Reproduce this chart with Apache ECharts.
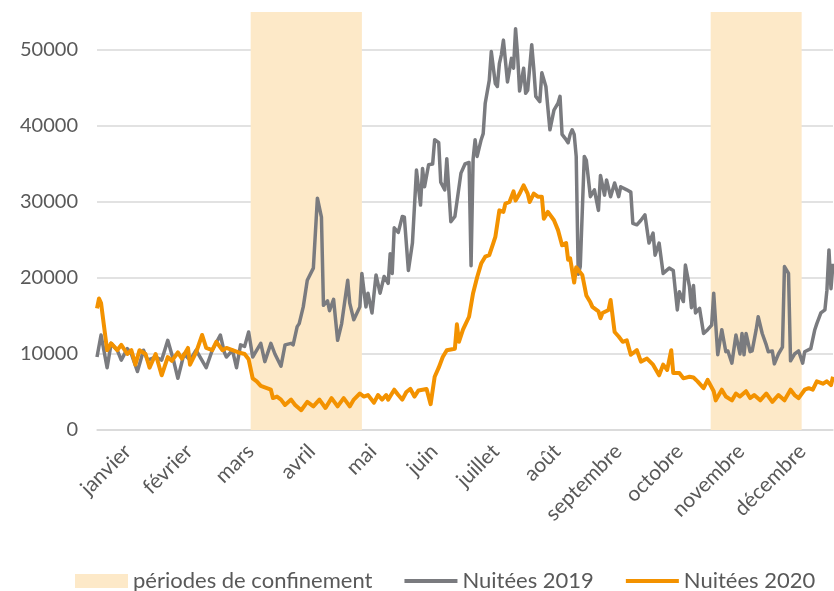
<!DOCTYPE html>
<html>
<head>
<meta charset="utf-8">
<script src="https://cdn.jsdelivr.net/npm/echarts@6/dist/echarts.min.js"></script>
<style>
html, body { margin: 0; padding: 0; background: #fff; }
#main { width: 834px; height: 591px; }
</style>
</head>
<body>
<div id="main"></div>
<script>
// jour de l'année (0 = 1er janvier) et nuitées en milliers
var months = ['janvier', 'février', 'mars', 'avril', 'mai', 'juin', 'juillet', 'août', 'septembre', 'octobre', 'novembre', 'décembre'];
var yTicks = [0, 10000, 20000, 30000, 40000, 50000];

var days2019 = [0, 2, 5, 7, 10, 12, 15, 17, 20, 23, 25, 29, 32, 35, 38, 40, 43, 46, 49, 54, 57, 61, 63, 64, 67, 69, 71, 73, 75, 77, 79, 81, 83, 86, 88, 91, 93, 96, 97, 99, 100, 102, 104, 107, 109, 111, 112, 114, 115, 117, 119, 121, 124, 125, 127, 130, 131, 133, 134, 136, 138, 140, 142, 144, 145, 146, 147, 149, 151, 152, 154, 156, 158, 160, 161, 162, 164, 166, 167, 169, 170, 172, 173, 175, 177, 180, 182, 184, 185, 186, 187, 188, 190, 191, 192, 194, 195, 197, 198, 199, 200, 201, 203, 205, 206, 207, 208, 209, 211, 212, 213, 215, 216, 217, 219, 220, 222, 224, 226, 228, 229, 230, 232, 233, 234, 235, 236, 237, 238, 239, 241, 242, 244, 246, 248, 249, 251, 252, 254, 256, 258, 259, 262, 264, 265, 267, 269, 271, 273, 275, 276, 278, 280, 283, 285, 287, 288, 290, 291, 293, 294, 295, 296, 298, 300, 302, 304, 305, 307, 309, 311, 312, 314, 316, 318, 319, 320, 321, 323, 324, 326, 327, 329, 331, 332, 334, 335, 337, 339, 340, 342, 343, 345, 347, 349, 350, 353, 355, 356, 358, 360, 361, 362, 363, 364];
var vals2019 = [9.6, 12.5, 8.2, 11.4, 10.5, 9.2, 10.7, 10.0, 7.7, 10.5, 9.2, 9.6, 9.2, 11.8, 9.0, 6.8, 10.0, 9.2, 10.5, 8.2, 10.5, 12.5, 10.2, 9.6, 10.5, 8.2, 11.2, 11.0, 12.9, 9.6, 10.5, 11.4, 9.0, 11.4, 10.0, 8.4, 11.2, 11.4, 11.2, 13.6, 14.0, 16.2, 19.7, 21.3, 30.5, 28.0, 16.4, 17.0, 15.7, 17.2, 11.8, 14.0, 19.7, 16.7, 14.5, 16.2, 20.6, 16.2, 18.0, 15.4, 20.4, 18.0, 20.2, 19.3, 23.2, 20.6, 26.6, 26.0, 28.1, 28.0, 21.0, 24.6, 34.2, 29.6, 34.4, 32.0, 34.9, 35.0, 38.2, 37.8, 32.6, 31.6, 35.7, 27.4, 28.1, 33.8, 35.0, 35.2, 21.6, 35.6, 38.2, 36.0, 38.2, 39.0, 43.0, 46.0, 49.8, 45.6, 45.2, 48.2, 49.4, 51.3, 45.8, 48.9, 47.6, 52.8, 49.4, 44.6, 47.6, 44.3, 44.7, 50.7, 47.6, 43.9, 43.2, 47.0, 45.2, 39.5, 42.1, 43.0, 43.9, 38.9, 38.2, 37.8, 38.9, 39.5, 38.9, 36.0, 20.5, 21.5, 36.0, 35.5, 30.7, 31.6, 28.9, 33.5, 30.9, 32.9, 30.7, 32.5, 30.7, 32.0, 31.6, 31.3, 27.2, 27.0, 27.6, 28.3, 24.6, 25.9, 23.0, 24.6, 20.6, 21.3, 21.0, 15.8, 18.2, 16.9, 21.7, 18.9, 16.1, 19.0, 15.4, 16.0, 12.7, 13.2, 13.8, 18.0, 9.9, 13.2, 10.3, 10.4, 8.8, 12.5, 10.0, 12.7, 9.9, 12.7, 10.3, 10.4, 13.2, 14.9, 12.7, 11.2, 10.3, 10.4, 8.7, 10.0, 10.9, 21.5, 20.6, 9.1, 10.0, 10.4, 8.8, 10.3, 10.7, 13.2, 14.0, 15.4, 15.8, 18.4, 23.7, 18.6, 21.9];

var days2020 = [0, 1, 2, 5, 7, 10, 12, 15, 17, 19, 21, 24, 26, 29, 32, 35, 37, 40, 42, 45, 46, 49, 52, 54, 57, 59, 62, 64, 67, 70, 73, 75, 77, 79, 81, 84, 86, 87, 89, 91, 93, 96, 98, 101, 104, 107, 110, 113, 116, 119, 122, 125, 127, 130, 132, 134, 137, 139, 141, 143, 144, 147, 149, 151, 153, 155, 157, 159, 161, 163, 165, 167, 169, 171, 173, 175, 177, 178, 179, 181, 184, 186, 188, 190, 192, 194, 196, 197, 199, 201, 202, 204, 206, 207, 209, 211, 213, 214, 216, 218, 220, 221, 223, 226, 228, 230, 232, 233, 234, 236, 237, 240, 242, 244, 245, 248, 249, 250, 253, 254, 256, 258, 260, 262, 264, 267, 269, 272, 275, 278, 280, 282, 284, 285, 288, 290, 293, 295, 297, 300, 302, 305, 306, 309, 311, 314, 316, 318, 321, 323, 325, 328, 331, 334, 337, 340, 343, 345, 347, 350, 352, 354, 356, 359, 361, 363, 364];
var vals2020 = [16.0, 17.3, 16.7, 10.5, 11.4, 10.5, 11.2, 10.0, 10.5, 8.6, 10.5, 10.0, 8.2, 10.0, 7.2, 9.6, 9.1, 10.2, 9.4, 10.8, 8.6, 10.2, 12.5, 10.8, 10.5, 11.6, 10.5, 10.8, 10.5, 10.2, 10.0, 9.3, 6.8, 6.4, 5.8, 5.5, 5.3, 4.2, 4.4, 4.0, 3.3, 4.0, 3.3, 2.6, 3.7, 3.1, 4.0, 2.9, 4.2, 3.1, 4.2, 3.1, 4.0, 4.8, 4.4, 4.6, 3.6, 4.6, 4.0, 4.6, 4.0, 5.3, 4.6, 4.0, 5.0, 5.4, 4.4, 5.2, 5.3, 5.4, 3.4, 7.0, 8.2, 9.6, 10.5, 10.6, 10.7, 13.9, 11.6, 13.2, 14.9, 18.0, 20.1, 21.9, 22.8, 23.0, 24.6, 25.4, 28.9, 28.7, 29.8, 30.0, 31.4, 30.2, 31.1, 32.2, 31.1, 30.0, 31.1, 30.7, 30.7, 27.8, 28.7, 27.6, 26.3, 24.3, 24.6, 22.4, 22.6, 19.4, 21.4, 20.4, 17.7, 16.8, 16.2, 15.6, 14.7, 15.4, 15.8, 17.1, 12.9, 12.3, 11.6, 11.8, 9.9, 10.5, 9.0, 9.4, 8.6, 7.2, 8.6, 7.9, 10.5, 7.5, 7.5, 6.8, 7.0, 6.9, 6.4, 5.5, 6.6, 5.1, 3.9, 5.3, 4.4, 3.9, 4.8, 4.4, 5.1, 4.2, 4.6, 3.9, 4.8, 3.7, 4.6, 3.9, 5.3, 4.6, 4.2, 5.3, 5.5, 5.3, 6.4, 6.1, 6.4, 5.9, 7.0];

// périodes de confinement (jour de début, jour de fin)
var lockdowns = [[76, 131], [303.5, 348.5]];

function pairs(days, vals) {
  return days.map(function (d, i) { return [d, vals[i] * 1000]; });
}

var myChart = echarts.init(document.getElementById('main'));
var txt = '#595959';
var font = 'Lato';
var grey = '#7a7b7f';
var orange = '#f39200';
var band = '#fde9c8';
// icône de légende : un trait fin centré dans une boîte 53x14
var lineIcon = 'path://M0,0L0,0M0,5L53,5L53,9L0,9ZM53,14L53,14';

var option = {
  animation: false,
  textStyle: { fontFamily: font },
  grid: { left: 97, right: 1, top: 12, bottom: 161 },
  legend: {
    top: 565,
    left: 70,
    itemWidth: 53,
    itemHeight: 14,
    itemGap: 32,
    textStyle: { color: txt, fontSize: 22, fontFamily: font },
    data: [
      { name: 'périodes de confinement', icon: 'rect' },
      { name: 'Nuitées 2019', icon: lineIcon },
      { name: 'Nuitées 2020', icon: lineIcon }
    ]
  },
  xAxis: [
    { type: 'value', min: 0, max: 364, position: 'top', show: false },
    {
      type: 'category',
      position: 'bottom',
      data: months,
      boundaryGap: true,
      axisLine: { lineStyle: { color: '#d9d9d9', width: 1.5 } },
      axisTick: { show: false },
      splitLine: { show: false },
      axisLabel: { rotate: 45, color: txt, fontSize: 21, fontFamily: font, margin: 18, interval: 0 }
    }
  ],
  yAxis: {
    type: 'value',
    min: 0,
    max: 55000,
    interval: 10000,
    axisLine: { show: false },
    axisTick: { show: false },
    splitLine: { lineStyle: { color: '#d9d9d9', width: 1.5 }, showMaxLine: false },
    axisLabel: {
      color: txt, fontSize: 20, fontFamily: font, margin: 19, showMaxLabel: false,
      formatter: function (v) { return yTicks.indexOf(v) >= 0 ? String(v) : ''; }
    }
  },
  series: [
    {
      name: 'périodes de confinement',
      type: 'line',
      xAxisIndex: 0,
      data: [],
      itemStyle: { color: band },
      lineStyle: { color: band }
    },
    {
      name: 'Nuitées 2019',
      type: 'line',
      xAxisIndex: 0,
      data: pairs(days2019, vals2019),
      symbol: 'none',
      itemStyle: { color: grey },
      lineStyle: { color: grey, width: 3.5, join: 'round' },
      markArea: {
        silent: true,
        itemStyle: { color: band },
        data: lockdowns.map(function (p) { return [{ xAxis: p[0] }, { xAxis: p[1] }]; })
      }
    },
    {
      name: 'Nuitées 2020',
      type: 'line',
      xAxisIndex: 0,
      data: pairs(days2020, vals2020),
      symbol: 'none',
      itemStyle: { color: orange },
      lineStyle: { color: orange, width: 4, join: 'round' }
    }
  ]
};

myChart.setOption(option);
</script>
</body>
</html>
